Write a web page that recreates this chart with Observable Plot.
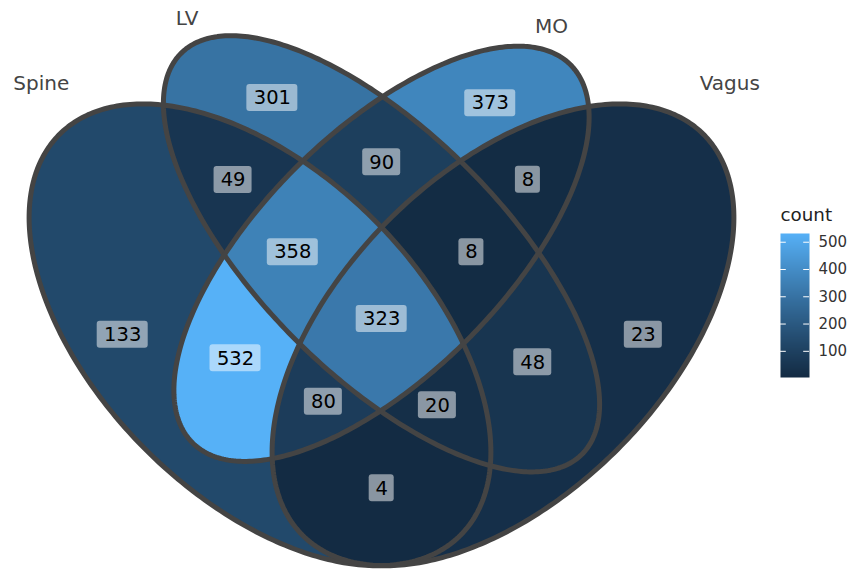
<!DOCTYPE html>
<html><head><meta charset="utf-8">
<script src="https://cdn.jsdelivr.net/npm/d3@7"></script>
<script src="https://cdn.jsdelivr.net/npm/@observablehq/plot@0.6"></script>
<style>
body{margin:0;background:#fff;}
#wrap{position:relative;width:852px;height:570px;overflow:hidden;}
#main{position:absolute;left:0;top:0;}
#legend{position:absolute;left:770px;top:195px;}
</style>
</head><body>
<div id="wrap"><div id="main"></div><div id="legend"></div></div>
<script>
// ---- data ----
const sets = ["Spine", "LV", "MO", "Vagus"];
const regionSets = ["Spine", "LV", "MO", "Vagus",
  "Spine&LV", "Spine&MO", "Spine&Vagus", "LV&MO", "LV&Vagus", "MO&Vagus",
  "Spine&LV&MO", "Spine&LV&Vagus", "Spine&MO&Vagus", "LV&MO&Vagus",
  "Spine&LV&MO&Vagus"];
const regionCounts = [133, 301, 373, 23, 49, 532, 4, 90, 48, 8, 358, 20, 80, 8, 323];
const legendTicks = [100, 200, 300, 400, 500];

// ---- Venn shape (4-ellipse layout, unit coordinates) ----
const shapeEllipses = [
  {set: "Spine", cx: 0.35, cy: 0.47, a: 0.35, b: 0.20, rot: 135},
  {set: "LV",    cx: 0.50, cy: 0.57, a: 0.35, b: 0.15, rot: 135},
  {set: "MO",    cx: 0.50, cy: 0.57, a: 0.33, b: 0.15, rot: 45},
  {set: "Vagus", cx: 0.65, cy: 0.47, a: 0.35, b: 0.20, rot: 45}
];
const shapeSetLabelPos = [[0.08, 0.78], [0.26, 0.86], [0.71, 0.85], [0.93, 0.78]];

const W = 852, H = 570;
const xDomain = [0.5 - 381 / 810, 0.5 + (W - 381) / 810];
const yDomain = [(715 - H) / 810, 715 / 810];
const k = (xDomain[1] - xDomain[0]) / W; // data units per pixel

function inside(e, x, y) {
  const t = e.rot * Math.PI / 180, c = Math.cos(t), s = Math.sin(t);
  const dx = x - e.cx, dy = y - e.cy;
  const u = dx * c + dy * s, v = -dx * s + dy * c;
  return (u * u) / (e.a * e.a) + (v * v) / (e.b * e.b) <= 1;
}
function keyAt(x, y) {
  const m = shapeEllipses.filter(e => inside(e, x, y)).map(e => e.set);
  return m.length ? m.join("&") : null;
}
const countByKey = new Map(regionSets.map((s, i) => [s, regionCounts[i]]));

// region label position: point on surface (mid-height scanline, widest interior run)
const ext = new Map();
for (let x = 0.05; x <= 0.95; x += 0.002) {
  for (let y = 0.17; y <= 0.86; y += 0.001) {
    const key = keyAt(x, y);
    if (!key) continue;
    const a = ext.get(key) || {ymin: Infinity, ymax: -Infinity};
    if (y < a.ymin) a.ymin = y;
    if (y > a.ymax) a.ymax = y;
    ext.set(key, a);
  }
}
const labels = regionSets.map((s, i) => {
  const a = ext.get(s);
  const ym = (a.ymin + a.ymax) / 2;
  let best = null, start = null;
  const step = 0.0005;
  for (let x = 0.05; x <= 0.96; x += step) {
    const inR = keyAt(x, ym) === s;
    if (inR && start === null) start = x;
    if (!inR && start !== null) {
      if (!best || x - start > best[1] - best[0]) best = [start, x];
      start = null;
    }
  }
  const cx = (best[0] + best[1]) / 2, cy = ym;
  const txt = String(regionCounts[i]);
  const hw = (12 + 13 * txt.length) / 2 * k, hh = 13.5 * k;
  return {key: s, count: regionCounts[i], txt, x: cx, y: cy, x1: cx - hw, x2: cx + hw, y1: cy - hh, y2: cy + hh};
});

// ellipse outlines
const outline = [];
for (const e of shapeEllipses) {
  const t = e.rot * Math.PI / 180;
  for (let i = 0; i <= 360; i++) {
    const p = i / 360 * 2 * Math.PI;
    const u = e.a * Math.cos(p), v = e.b * Math.sin(p);
    outline.push({set: e.set, x: e.cx + u * Math.cos(t) - v * Math.sin(t), y: e.cy + u * Math.sin(t) + v * Math.cos(t)});
  }
}

const colorScale = {type: "linear", domain: [d3.min(regionCounts), d3.max(regionCounts)],
  range: ["#132B43", "#56B1F7"], interpolate: "lab"};

const setLabelData = sets.map((s, i) => ({s, x: shapeSetLabelPos[i][0], y: shapeSetLabelPos[i][1]}));

const main = Plot.plot({
  width: W, height: H, margin: 0,
  style: {fontFamily: "'DejaVu Sans'", background: "transparent"},
  x: {domain: xDomain, axis: null},
  y: {domain: yDomain, axis: null},
  color: colorScale,
  marks: [
    Plot.raster({x1: xDomain[0], x2: xDomain[1], y1: yDomain[0], y2: yDomain[1],
      fill: (x, y) => { const key = keyAt(x, y); return key ? countByKey.get(key) : NaN; },
      pixelSize: 1}),
    Plot.line(outline, {x: "x", y: "y", z: "set", stroke: "#444444", strokeWidth: 5, strokeLinejoin: "round"}),
    Plot.rect(labels, {x1: "x1", x2: "x2", y1: "y1", y2: "y2", fill: "white", fillOpacity: 0.5, rx: 3}),
    Plot.text(labels, {x: "x", y: "y", text: "txt", fill: "black", fontSize: 19.5}),
    Plot.text(setLabelData, {x: "x", y: "y", text: "s", fill: "#444444", fontSize: 20})
  ]
});
document.getElementById("main").appendChild(main);

const legend = Plot.plot({
  width: 82, height: 190, margin: 0,
  style: {fontFamily: "'DejaVu Sans'", background: "transparent", overflow: "visible"},
  x: {domain: [0, 1], range: [10, 39], axis: null},
  y: {domain: colorScale.domain, range: [182, 38], axis: null},
  color: colorScale,
  marks: [
    Plot.raster({x1: 0, x2: 1, y1: colorScale.domain[0], y2: colorScale.domain[1], fill: (x, y) => y, pixelSize: 1}),
    Plot.ruleY(legendTicks, {x1: 0, x2: 0.2, stroke: "white", strokeWidth: 1}),
    Plot.ruleY(legendTicks, {x1: 0.8, x2: 1, stroke: "white", strokeWidth: 1}),
    Plot.text(legendTicks, {x: 1, y: d => d, text: d => String(d), dx: 9, textAnchor: "start", fill: "#333", fontSize: 15}),
    Plot.text(["count"], {x: 0, y: colorScale.domain[1], text: d => d, dy: -18, textAnchor: "start", fill: "#222", fontSize: 18.3})
  ]
});
document.getElementById("legend").appendChild(legend);
</script>
</body></html>
